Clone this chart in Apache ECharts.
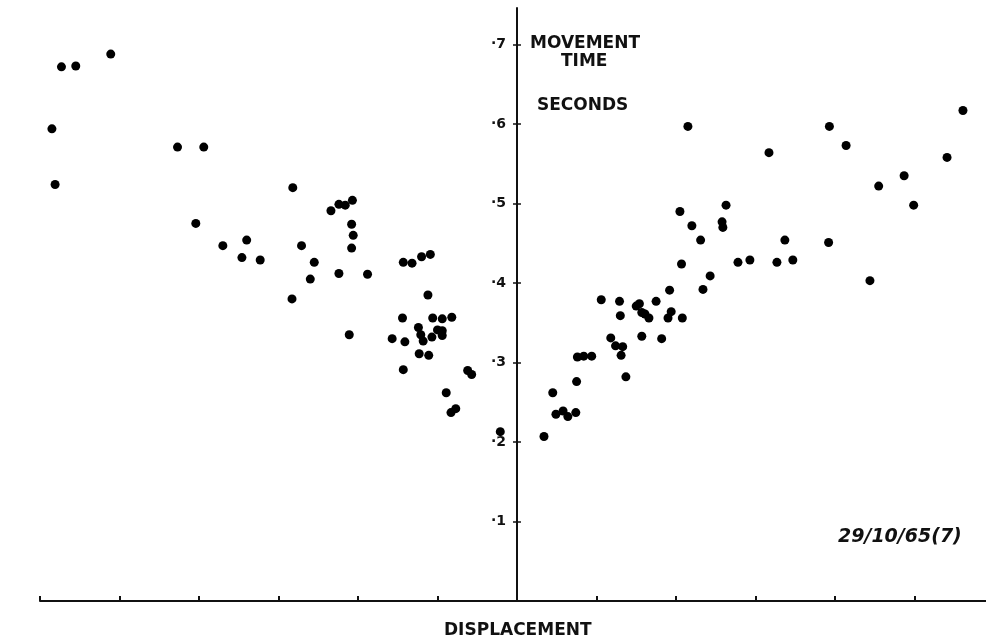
<!DOCTYPE html>
<html>
<head>
<meta charset="utf-8">
<script src="https://cdn.jsdelivr.net/npm/echarts@6/dist/echarts.min.js"></script>
<style>
html,body{margin:0;padding:0;background:#fff;}
#chart{width:986px;height:640px;}
</style>
</head>
<body>
<div id="chart"></div>
<script>
// Displacement (tick units) for each observation, left of centre
const leftX = [-5.85,-5.81,-5.73,-5.55,-5.11,-4.27,-3.94,-4.04,-3.70,-3.40,-3.46,-3.23,-2.82,-2.71,-2.55,-2.60,-2.83,-2.34,-2.24,-2.16,-2.07,-2.08,-2.06,-2.08,-2.24,-1.88,-2.11,-1.43,-1.32,-1.20,-1.09,-1.12,-1.44,-1.06,-0.94,-0.82,-1.24,-1.21,-1.18,-1.07,-1.00,-0.94,-0.94,-1.57,-1.41,-1.23,-1.11,-1.43,-0.62,-0.57,-0.89,-0.77,-0.83,-0.21];
// Movement time (seconds), left of centre
const leftY = [0.594,0.524,0.672,0.673,0.688,0.571,0.571,0.475,0.447,0.454,0.432,0.429,0.520,0.447,0.426,0.405,0.380,0.491,0.499,0.498,0.504,0.474,0.460,0.444,0.412,0.411,0.335,0.426,0.425,0.433,0.436,0.385,0.356,0.356,0.355,0.357,0.344,0.335,0.327,0.332,0.341,0.340,0.334,0.330,0.326,0.311,0.309,0.291,0.290,0.285,0.262,0.242,0.237,0.213];
// Displacement, right of centre
const rightX = [0.34,0.45,0.49,0.58,0.64,0.74,0.75,0.76,0.84,0.94,1.06,1.18,1.24,1.33,1.31,1.37,1.29,1.30,1.50,1.54,1.57,1.61,1.66,1.57,1.75,1.82,1.90,1.94,1.92,2.08,2.07,2.05,2.20,2.31,2.34,2.43,2.58,2.59,2.63,2.78,2.15,3.17,3.93,4.14,5.61,5.41,4.87,4.55,4.99,3.37,3.92,2.93,3.27,3.47,4.44];
// Movement time, right of centre
const rightY = [0.207,0.262,0.235,0.239,0.232,0.237,0.276,0.307,0.308,0.308,0.379,0.331,0.321,0.320,0.309,0.282,0.377,0.359,0.371,0.374,0.363,0.361,0.356,0.333,0.377,0.330,0.356,0.364,0.391,0.356,0.424,0.490,0.472,0.454,0.392,0.409,0.477,0.470,0.498,0.426,0.597,0.564,0.597,0.573,0.617,0.558,0.535,0.522,0.498,0.454,0.451,0.429,0.426,0.429,0.403];
// Tick values
const yTicks = [0.1,0.2,0.3,0.4,0.5,0.6,0.7];
const xTicks = [-6,-5,-4,-3,-2,-1,0,1,2,3,4,5];
const xMin = -6, xMax = 5.9;

const points = leftX.map((x,i)=>[x,leftY[i]]).concat(rightX.map((x,i)=>[x,rightY[i]]));

const chart = echarts.init(document.getElementById('chart'), null, {renderer:'canvas'});
const gridLeft = 40, gridRight = 0;
const plotW = 986 - gridLeft - gridRight;
// shift the y axis so that it sits on displacement zero
const yOffset = -(0 - xMin) / (xMax - xMin) * plotW;
const boldFont = '"DejaVu Sans"';
chart.setOption({
  backgroundColor:'#ffffff',
  animation:false,
  grid:{left:gridLeft,right:gridRight,top:8,bottom:39,containLabel:false},
  xAxis:{
    type:'value',min:xMin,max:xMax,interval:1,
    axisLine:{onZero:false,lineStyle:{color:'#111',width:2}},
    axisTick:{inside:true,length:5,customValues:xTicks,lineStyle:{color:'#111',width:2}},
    axisLabel:{show:false},
    splitLine:{show:false}
  },
  yAxis:[{
    type:'value',min:0,max:0.746,interval:0.1,position:'left',offset:yOffset,
    axisLine:{onZero:false,lineStyle:{color:'#111',width:2}},
    axisTick:{length:4,customValues:yTicks,lineStyle:{color:'#111',width:1.5}},
    axisLabel:{
      margin:11,color:'#111',fontFamily:boldFont,fontWeight:'bold',fontSize:14,
      customValues:yTicks,
      formatter:function(v){
        const t = yTicks.find(k=>Math.abs(k-v)<1e-6);
        return t===undefined ? '' : '·' + Math.round(t*10);
      }
    },
    splitLine:{show:false}
  },{
    type:'value',min:0,max:0.746,interval:0.1,position:'left',offset:yOffset,
    axisLine:{show:false,onZero:false},
    axisTick:{inside:true,length:4,customValues:yTicks,lineStyle:{color:'#111',width:1.5}},
    axisLabel:{show:false},
    splitLine:{show:false}
  }],
  graphic:[
    {type:'text',left:530,top:35,style:{text:'MOVEMENT',font:'bold 17px "DejaVu Sans"',fill:'#111'}},
    {type:'text',left:561,top:53,style:{text:'TIME',font:'bold 17px "DejaVu Sans"',fill:'#111'}},
    {type:'text',left:537,top:97,style:{text:'SECONDS',font:'bold 17px "DejaVu Sans"',fill:'#111'}},
    {type:'text',left:444,top:622,style:{text:'DISPLACEMENT',font:'bold 17px "DejaVu Sans"',fill:'#111'}},
    {type:'text',left:838,top:528,style:{text:'29/10/65(7)',font:'italic bold 19px "DejaVu Sans"',fill:'#111'}}
  ],
  series:[{
    type:'scatter',
    data:points,
    symbol:'circle',
    symbolSize:9,
    itemStyle:{color:'#000',opacity:1}
  }]
});
</script>
</body>
</html>
